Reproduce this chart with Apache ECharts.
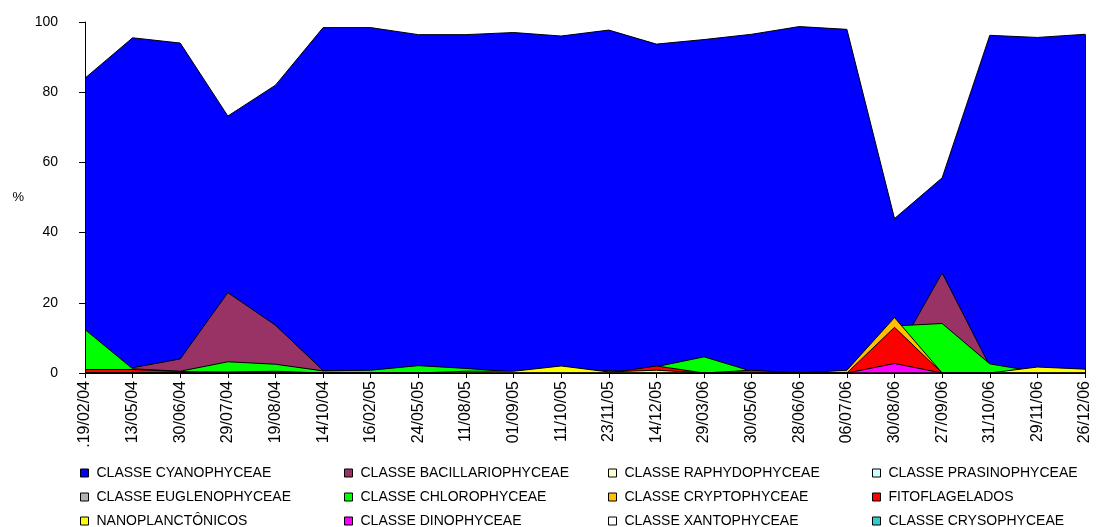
<!DOCTYPE html>
<html>
<head>
<meta charset="utf-8">
<script src="https://cdn.jsdelivr.net/npm/echarts@6/dist/echarts.min.js"></script>
<style>
  html, body { margin: 0; padding: 0; background: #fff; }
  #chart { width: 1097px; height: 527px; }
</style>
</head>
<body>
<div id="chart"></div>
<script>
// Sampling dates (x axis)
const dates = ['.19/02/04', '13/05/04', '30/06/04', '29/07/04', '19/08/04', '14/10/04', '16/02/05', '24/05/05',
  '11/08/05', '01/09/05', '11/10/05', '23/11/05', '14/12/05', '29/03/06', '30/05/06', '28/06/06',
  '06/07/06', '30/08/06', '27/09/06', '31/10/06', '29/11/06', '26/12/06'];

// Cumulative percentages per group (each layer drawn from zero, later groups in front)
const cyanophyceae      = [84, 95.5, 94, 73.2, 82, 98.4, 98.4, 96.4, 96.4, 97, 96, 97.7, 93.7, 95, 96.5, 98.7, 97.9, 44, 55.6, 96.2, 95.6, 96.5];
const bacillariophyceae = [0, 1.5, 4.0, 22.9, 13.6, 0.7, 0, 0, 0, 0, 0, 0.7, 0, 0, 0, 0, 0, 4.5, 28.5, 2.0, 0, 0];
const raphydophyceae    = [0, 0, 0, 0, 0, 0, 0, 0, 0, 0, 0, 0, 0, 0, 0, 0, 0, 0, 0, 0, 0, 0];
const prasinophyceae    = [0, 0, 0, 0, 0, 0, 0, 0, 0, 0, 0, 0, 0, 0, 0, 0, 0, 0, 0, 0, 0, 0];
const euglenophyceae    = [0, 0, 0, 0, 0, 0, 0, 0, 0, 0, 0, 0, 0, 0, 0, 0, 0, 0, 0, 0, 0, 0];
const chlorophyceae     = [12.4, 1.2, 0.5, 3.2, 2.5, 0.6, 0.8, 2.1, 1.3, 0.3, 0, 0, 1.8, 4.6, 0.5, 0, 0, 13.4, 14.1, 2.6, 0.3, 0];
const cryptophyceae     = [0, 0, 0, 0, 0, 0, 0, 0, 0, 0, 0, 0, 0, 0, 0, 0, 0.8, 15.8, 0, 0, 0, 0];
const fitoflagelados    = [1.0, 1.0, 0.4, 0.3, 0.5, 0, 0, 0, 0, 0, 0, 0, 2.0, 0, 0.8, 0, 0, 13.0, 0, 0, 0, 0];
const nanoplanctonicos  = [0, 0, 0, 0, 0, 0, 0, 0, 0.5, 0.5, 2.0, 0.3, 0.8, 0, 0, 0, 0, 0, 0, 0, 1.7, 1.1];
const dinophyceae       = [0, 0, 0, 0, 0, 0, 0, 0, 0, 0, 0, 0, 0, 0, 0, 0, 0, 2.7, 0, 0, 0, 0];
const xantophyceae      = [0, 0, 0, 0, 0, 0, 0, 0, 0, 0, 0, 0, 0, 0, 0, 0, 0, 0, 0, 0, 0, 0];
const crysophyceae      = [0, 0, 0, 0, 0, 0, 0, 0, 0, 0, 0, 0, 0, 0, 0, 0, 0, 0, 0, 0, 0, 0];

// Y axis ticks
const yTicks = [0, 20, 40, 60, 80, 100];

const groups = [
  { name: 'CLASSE CYANOPHYCEAE',      data: cyanophyceae,      color: '#0000FF' },
  { name: 'CLASSE BACILLARIOPHYCEAE', data: bacillariophyceae, color: '#993366' },
  { name: 'CLASSE RAPHYDOPHYCEAE',    data: raphydophyceae,    color: '#FFFFCC' },
  { name: 'CLASSE PRASINOPHYCEAE',    data: prasinophyceae,    color: '#CCFFFF' },
  { name: 'CLASSE EUGLENOPHYCEAE',    data: euglenophyceae,    color: '#B2B2B2' },
  { name: 'CLASSE CHLOROPHYCEAE',     data: chlorophyceae,     color: '#00FF00' },
  { name: 'CLASSE CRYPTOPHYCEAE',     data: cryptophyceae,     color: '#FFC000' },
  { name: 'FITOFLAGELADOS',           data: fitoflagelados,    color: '#FF0000' },
  { name: 'NANOPLANCTÔNICOS',         data: nanoplanctonicos,  color: '#FFFF00' },
  { name: 'CLASSE DINOPHYCEAE',       data: dinophyceae,       color: '#FF00FF' },
  { name: 'CLASSE XANTOPHYCEAE',      data: xantophyceae,      color: '#FFFFFF' },
  { name: 'CLASSE CRYSOPHYCEAE',      data: crysophyceae,      color: '#33CCCC' }
];

const FONT = '"Liberation Sans", Arial, sans-serif';
const lastIdx = dates.length - 1;

const series = groups.map((g, i) => {
  const s = {
    name: g.name,
    type: 'line',
    data: g.data,
    showSymbol: false,
    symbol: 'none',
    animation: false,
    z: 2 + i * 0.01,
    itemStyle: { color: g.color },
    lineStyle: { color: '#000', width: 1 },
    areaStyle: { color: g.color, opacity: 1 }
  };
  if (i === 0) {
    // closing edge of the back layer on the right side
    s.markLine = {
      silent: true,
      symbol: 'none',
      label: { show: false },
      lineStyle: { color: '#000', width: 1, type: 'solid' },
      data: [[{ coord: [lastIdx, 0] }, { coord: [lastIdx, g.data[lastIdx]] }]]
    };
  }
  return s;
});

// legend laid out as a 4-column grid: one small legend per entry
const legends = groups.map((g, i) => ({
  left: 80 + (i % 4) * 264,
  top: 466 + Math.floor(i / 4) * 24,
  orient: 'horizontal',
  icon: 'rect',
  itemWidth: 8,
  itemHeight: 8,
  itemGap: 0,
  padding: 0,
  selectedMode: false,
  textStyle: { fontFamily: FONT, fontSize: 14, color: '#000', padding: [0, 0, 0, 3] },
  data: [{ name: g.name, itemStyle: { color: g.color, borderColor: '#000', borderWidth: 1 } }]
}));

const chart = echarts.init(document.getElementById('chart'), null, { renderer: 'canvas' });
chart.setOption({
  backgroundColor: '#fff',
  animation: false,
  grid: { left: 85, top: 22, width: 1000, height: 351, containLabel: false },
  legend: legends,
  xAxis: {
    type: 'category',
    data: dates,
    boundaryGap: false,
    axisLine: { lineStyle: { color: '#000', width: 1 } },
    axisTick: { show: true, alignWithLabel: true, length: 5, lineStyle: { color: '#000' } },
    axisLabel: {
      interval: 0,
      rotate: 90,
      margin: 8,
      color: '#000',
      fontFamily: FONT,
      fontSize: 16
    },
    splitLine: { show: false },
    z: 10
  },
  yAxis: {
    type: 'value',
    min: yTicks[0],
    max: yTicks[yTicks.length - 1],
    interval: yTicks[1] - yTicks[0],
    name: '%',
    nameLocation: 'middle',
    nameRotate: 0,
    nameGap: 61,
    nameTextStyle: { fontFamily: FONT, fontSize: 13, color: '#000' },
    axisLine: { show: true, lineStyle: { color: '#000', width: 1 } },
    axisTick: { show: true, length: 6, lineStyle: { color: '#000' } },
    axisLabel: { color: '#000', fontFamily: FONT, fontSize: 14, margin: 27 },
    splitLine: { show: false },
    z: 10
  },
  series: series
});
</script>
</body>
</html>
